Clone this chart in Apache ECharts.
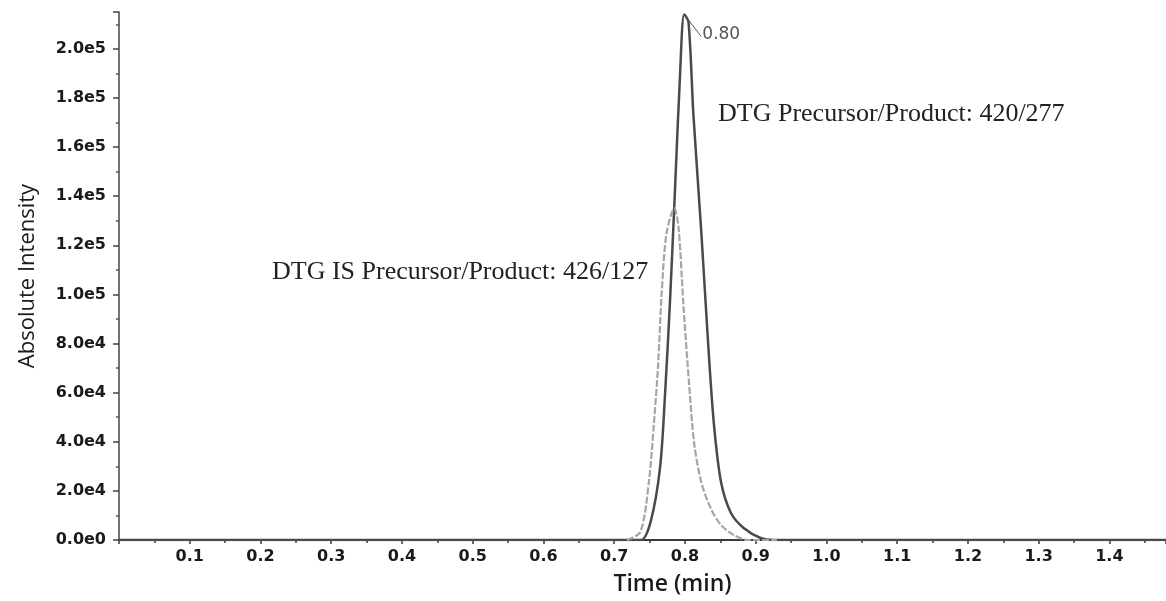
<!DOCTYPE html>
<html>
<head>
<meta charset="utf-8">
<script src="https://cdn.jsdelivr.net/npm/echarts@6/dist/echarts.min.js"></script>
<style>
html,body{margin:0;padding:0;background:#fff;}
#chart{width:1166px;height:601px;}
</style>
</head>
<body>
<div id="chart"></div>
<script>
// Time (min) and absolute intensity for the DTG transition 420/277
const dtgTime = [0.00, 0.20, 0.40, 0.60, 0.72, 0.738, 0.752, 0.765, 0.772, 0.779, 0.786, 0.793, 0.799, 0.805, 0.812, 0.823, 0.833, 0.841, 0.851, 0.865, 0.883, 0.907, 0.926, 1.00, 1.20, 1.48];
const dtgIntensity = [0, 0, 0, 0, 0, 0, 8000, 30000, 60000, 98000, 143000, 189000, 214000, 211000, 173000, 126000, 79000, 47000, 23600, 11000, 4900, 800, 0, 0, 0, 0];
// DTG IS transition 426/127
const isTime = [0.718, 0.737, 0.749, 0.756, 0.762, 0.767, 0.774, 0.785, 0.791, 0.798, 0.806, 0.813, 0.823, 0.837, 0.851, 0.869, 0.889, 0.930];
const isIntensity = [0, 3300, 23600, 47000, 71000, 100000, 125000, 135000, 127000, 95000, 63000, 39500, 23600, 12600, 6100, 2000, 0, 0];
const xTicks = [0.1, 0.2, 0.3, 0.4, 0.5, 0.6, 0.7, 0.8, 0.9, 1.0, 1.1, 1.2, 1.3, 1.4];
const peakLabel = '0.80';
const dtgLabel = 'DTG Precursor/Product: 420/277';
const isLabel = 'DTG IS Precursor/Product: 426/127';

const dtgData = dtgTime.map((t, i) => [t, dtgIntensity[i]]);
const isData = isTime.map((t, i) => [t, isIntensity[i]]);
const peakIdx = dtgIntensity.indexOf(Math.max(...dtgIntensity));

function sci(v) {
  if (v === 0) return '0.0e0';
  const e = Math.floor(Math.log10(v) + 1e-9);
  const m = v / Math.pow(10, e);
  return m.toFixed(1) + 'e' + e;
}

const chart = echarts.init(document.getElementById('chart'), null, {renderer: 'canvas'});
const tickFont = {fontFamily: 'DejaVu Sans', fontWeight: 'bold', fontSize: 16, color: '#1a1a1a'};
chart.setOption({
  animation: false,
  backgroundColor: '#fff',
  grid: {left: 119, right: 0, top: 12, bottom: 61, containLabel: false},
  xAxis: {
    type: 'value', min: 0, max: 1.48, interval: 0.1,
    name: 'Time (min)', nameLocation: 'middle', nameGap: 33,
    nameTextStyle: {fontFamily: 'Open Sans', fontWeight: 600, fontSize: 23, color: '#1a1a1a', padding: [0, 0, 0, 60]},
    axisLine: {lineStyle: {color: '#3a3a3a', width: 2}},
    axisTick: {show: true, length: 4, lineStyle: {color: '#3a3a3a', width: 1.5}},
    minorTick: {show: true, splitNumber: 2, length: 3, lineStyle: {color: '#3a3a3a', width: 1.5}},
    splitLine: {show: false},
    axisLabel: Object.assign({margin: 9, showMinLabel: false, showMaxLabel: false,
      formatter: v => xTicks.some(t => Math.abs(t - v) < 1e-6) ? v.toFixed(1) : ''}, tickFont)
  },
  yAxis: {
    type: 'value', min: 0, max: 215000, interval: 20000,
    name: 'Absolute Intensity', nameLocation: 'middle', nameGap: 80,
    nameTextStyle: {fontFamily: 'Open Sans', fontSize: 22, color: '#1a1a1a'},
    axisLine: {show: true, lineStyle: {color: '#444', width: 1.5}},
    axisTick: {show: true, length: 6, lineStyle: {color: '#444', width: 1.5}},
    minorTick: {show: true, splitNumber: 2, length: 3, lineStyle: {color: '#555', width: 1.5}},
    splitLine: {show: false},
    axisLabel: Object.assign({margin: 13, showMaxLabel: false, formatter: v => sci(v)}, tickFont)
  },
  series: [
    {
      name: 'DTG', type: 'line', data: dtgData, showSymbol: false, symbol: 'none',
      smooth: 0.3, z: 3,
      lineStyle: {color: '#4a4a4a', width: 2.5},
      markPoint: {
        symbol: 'circle', symbolSize: 0,
        data: [{coord: dtgData[peakIdx], value: peakLabel}],
        label: {show: true, formatter: peakLabel, position: 'inside', offset: [37, 20],
          fontFamily: 'DejaVu Sans', fontSize: 17, color: '#555'}
      },
      markLine: {
        silent: true, symbol: 'none',
        lineStyle: {color: '#555', width: 1, type: 'solid'},
        label: {show: false},
        data: [[{coord: [dtgTime[peakIdx], dtgIntensity[peakIdx]]}, {coord: [0.823, 205000]}]]
      }
    },
    {
      name: 'DTG IS', type: 'line', data: isData, showSymbol: false, symbol: 'none',
      smooth: 0.3, z: 4,
      lineStyle: {color: '#a6a6a6', width: 2.2, type: [7, 2]}
    }
  ],
  graphic: [
    {type: 'text', left: 718, top: 101, style: {text: dtgLabel, font: '26px "Liberation Serif"', fill: '#222'}},
    {type: 'text', left: 272, top: 259, style: {text: isLabel, font: '26px "Liberation Serif"', fill: '#222'}}
  ]
});
</script>
</body>
</html>
